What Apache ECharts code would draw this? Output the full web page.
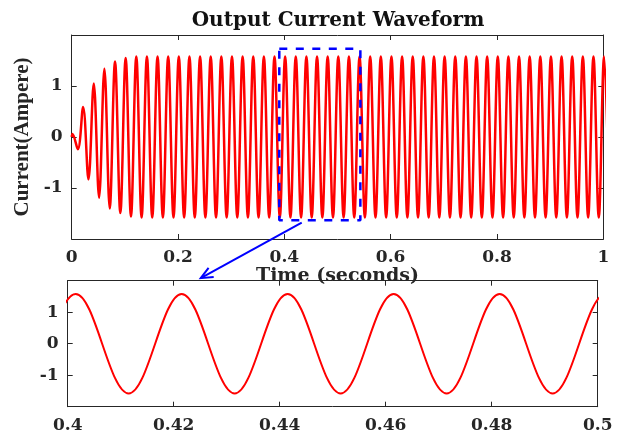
<!DOCTYPE html>
<html>
<head>
<meta charset="utf-8">
<script src="https://cdn.jsdelivr.net/npm/echarts@6/dist/echarts.min.js"></script>
<style>
  html, body { margin: 0; padding: 0; background: #fff; }
  #chart { width: 621px; height: 435px; }
</style>
</head>
<body>
<div id="chart"></div>
<script>
// Time windows (s)
const fullRange = [0, 1];
const zoomRange = [0.4, 0.5];
const fullTicks = 0.2;
const zoomTicks = 0.02;
const currentRange = [-2, 2];

// Signed current extremes of each half cycle during start-up (A)
const startupPeaks = [0.06, -0.24, 0.59, -0.83, 1.05, -1.19, 1.34, -1.40, 1.48, -1.49, 1.55, -1.56];
// Steady-state peak current (A) and timing of the 50 Hz waveform
const steadyPeak = 1.58;
const halfPeriod = 0.01;
const firstPeakTime = 0.0015;

// Dashed box marking the zoomed interval on the upper plot: [t, A] corners
const zoomBox = [[0.3905, 1.73], [0.543, 1.73], [0.543, -1.63], [0.3905, -1.63], [0.3905, 1.73]];
// Arrow from the box down to the zoomed plot: start on upper plot, end on lower plot
const arrowFrom = [0.4327, -1.68];
const arrowTo = [0.4251, 2.08];

// Trace through the half-cycle extremes; the curve between them is the
// library's spline (smooth factor chosen so each half cycle is sine-like)
function buildTrace() {
  const pts = [[0, 0]];
  const nHalf = Math.ceil((fullRange[1] + halfPeriod - firstPeakTime) / halfPeriod);
  for (let k = 0; k <= nHalf; k++) {
    const t = firstPeakTime + k * halfPeriod;
    const sign = k % 2 === 0 ? 1 : -1;
    const v = k < startupPeaks.length ? startupPeaks[k] : sign * steadyPeak;
    pts.push([+t.toFixed(5), v]);
  }
  return pts;
}
const trace = buildTrace();

const INK = '#262626';
const serif = 'DejaVu Serif';
const tickFont = { fontFamily: serif, fontWeight: 'bold', fontSize: 17, color: INK };

function xAxisPair(grid, range, step, showName) {
  const base = {
    type: 'value', gridIndex: grid, min: range[0], max: range[1], interval: step,
    axisLine: { show: true, onZero: false, lineStyle: { color: INK, width: 1 } },
    axisTick: { show: true, inside: true, length: 5, lineStyle: { color: INK } },
    splitLine: { show: false }
  };
  const bottom = Object.assign({}, base, {
    position: 'bottom',
    axisLabel: Object.assign({ margin: 10, formatter: v => String(+v.toFixed(3)) }, tickFont)
  });
  if (showName) {
    Object.assign(bottom, {
      name: 'Time (seconds)', nameLocation: 'middle', nameGap: 21,
      nameTextStyle: { fontFamily: serif, fontWeight: 'bold', fontSize: 19, color: INK }
    });
  }
  const top = Object.assign({}, base, { position: 'top', axisLabel: { show: false } });
  return [bottom, top];
}

function yAxisPair(grid, showName) {
  const base = {
    type: 'value', gridIndex: grid, min: currentRange[0], max: currentRange[1], interval: 1,
    axisLine: { show: true, onZero: false, lineStyle: { color: INK, width: 1 } },
    axisTick: { show: true, inside: true, length: 5, lineStyle: { color: INK } },
    splitLine: { show: false }
  };
  const left = Object.assign({}, base, {
    position: 'left',
    axisLabel: Object.assign({
      margin: 9,
      formatter: v => (Math.abs(v) >= 2 ? '' : String(v))
    }, tickFont)
  });
  if (showName) {
    Object.assign(left, {
      name: 'Current(Ampere)', nameLocation: 'middle', nameGap: 30,
      nameTextStyle: { fontFamily: 'Liberation Serif', fontWeight: 'bold', fontSize: 21, color: INK }
    });
  }
  const right = Object.assign({}, base, { position: 'right', axisLabel: { show: false } });
  return [left, right];
}

const chart = echarts.init(document.getElementById('chart'), null, { renderer: 'canvas' });

const [x0, x1] = xAxisPair(0, fullRange, fullTicks, true);
const [x2, x3] = xAxisPair(1, zoomRange, zoomTicks, false);
const [y0, y1] = yAxisPair(0, true);
const [y2, y3] = yAxisPair(1, false);

const waveSmooth = 0.3634;

chart.setOption({
  backgroundColor: '#fff',
  animation: false,
  title: {
    text: 'Output Current Waveform',
    left: 333, top: 6, textAlign: 'center',
    textStyle: { fontFamily: serif, fontWeight: 'bold', fontSize: 20, color: '#111' }
  },
  grid: [
    { left: 71.7, right: 17.7, top: 35, height: 204 },
    { left: 67.7, right: 23.3, top: 280.7, height: 126 }
  ],
  xAxis: [x0, x1, x2, x3],
  yAxis: [y0, y1, y2, y3],
  series: [
    {
      type: 'line', xAxisIndex: 0, yAxisIndex: 0, data: trace,
      smooth: waveSmooth, showSymbol: false, symbol: 'none', clip: true,
      lineStyle: { color: '#ff0000', width: 2.5 }, silent: true
    },
    {
      type: 'line', xAxisIndex: 0, yAxisIndex: 0, data: zoomBox,
      showSymbol: false, symbol: 'none', clip: false, z: 5,
      lineStyle: { color: '#0000ff', width: 2.5, type: [8, 8.5] }, silent: true
    },
    {
      type: 'line', xAxisIndex: 2, yAxisIndex: 2, data: trace,
      smooth: waveSmooth, showSymbol: false, symbol: 'none', clip: true,
      lineStyle: { color: '#ff0000', width: 2 }, silent: true
    }
  ]
});

// Arrow linking the dashed box to the zoomed plot
const p0 = chart.convertToPixel({ xAxisIndex: 0, yAxisIndex: 0 }, arrowFrom);
const p1 = chart.convertToPixel({ xAxisIndex: 2, yAxisIndex: 2 }, arrowTo);
const ang = Math.atan2(p0[1] - p1[1], p0[0] - p1[0]);
const headLen = 13, spread = 0.42;
const h1 = [p1[0] + headLen * Math.cos(ang + spread), p1[1] + headLen * Math.sin(ang + spread)];
const h2 = [p1[0] + headLen * Math.cos(ang - spread), p1[1] + headLen * Math.sin(ang - spread)];
chart.setOption({
  graphic: [
    { type: 'line', z: 10, shape: { x1: p0[0], y1: p0[1], x2: p1[0], y2: p1[1] },
      style: { stroke: '#0000ff', lineWidth: 2 } },
    { type: 'polyline', z: 10, shape: { points: [h1, p1, h2] },
      style: { stroke: '#0000ff', lineWidth: 2, fill: null } }
  ]
});
</script>
</body>
</html>
